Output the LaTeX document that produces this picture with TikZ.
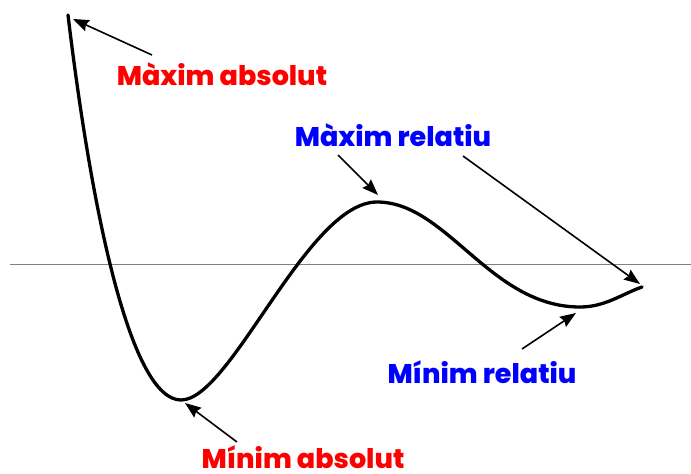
\documentclass[tikz,border=0pt]{standalone}
\usepackage{fontspec}
\setmainfont{Poppins}[BoldFont={Poppins ExtraBold}]
\usetikzlibrary{arrows.meta}
\definecolor{labred}{RGB}{255,0,0}
\definecolor{labblue}{RGB}{0,0,255}
\begin{document}
\begin{tikzpicture}[x=1pt,y=-1pt,
  lab/.style={font=\fontsize{27}{30}\selectfont\bfseries, anchor=base, inner sep=0pt},
  pointer/.style={line width=1.6pt, -{Stealth[length=16pt,width=12pt,inset=2pt]}},
  curve/.style={line width=3.3pt, line cap=round, line join=round},
  axis/.style={draw=gray, line width=1pt}]
\useasboundingbox (0,0) rectangle (691,474);
\fill[white] (0,0) rectangle (691,474);
% axis
\coordinate (axL) at (10,264);
\coordinate (axR) at (691,264);
\draw[axis] (axL) -- (axR);
% curve
\coordinate (pStart) at (68,15);
\coordinate (pMinAbs) at (181,400);
\coordinate (pMaxRel) at (377,202);
\coordinate (pMinRel) at (580,307);
\coordinate (pEnd) at (642,287);
\draw[curve] (pStart) .. controls (92,215) and (131,400) .. (pMinAbs)
  .. controls (231,400) and (307,202) .. (pMaxRel)
  .. controls (447,202) and (490,307) .. (pMinRel)
  .. controls (605,307) and (622,294) .. (pEnd);
% labels
\node[lab, text=labred] (maxabs) at (222,85) {Màxim absolut};
\node[lab, text=labblue] (maxrel) at (393,146) {Màxim relatiu};
\node[lab, text=labblue] (minrel) at (482,383) {Mínim relatiu};
\node[lab, text=labred] (minabs) at (303,468) {Mínim absolut};
% arrow ends
\coordinate (a1s) at (152,55);  \coordinate (a1e) at (73,19);
\coordinate (a2s) at (338,155); \coordinate (a2e) at (378,195);
\coordinate (a3s) at (463,156); \coordinate (a3e) at (640,284);
\coordinate (a4s) at (522,349); \coordinate (a4e) at (576,313);
\coordinate (a5s) at (237,442); \coordinate (a5e) at (185,403);
\draw[pointer] (a1s) -- (a1e);
\draw[pointer] (a2s) -- (a2e);
\draw[pointer] (a3s) -- (a3e);
\draw[pointer] (a4s) -- (a4e);
\draw[pointer] (a5s) -- (a5e);
\end{tikzpicture}
\end{document}
